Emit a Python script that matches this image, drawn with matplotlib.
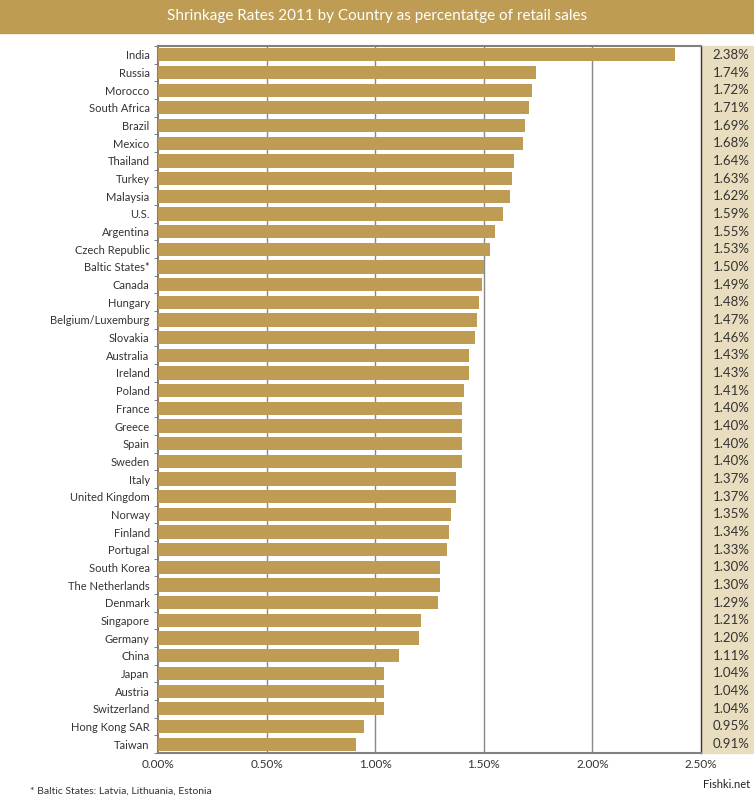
import matplotlib.pyplot as plt
from matplotlib.patches import Rectangle
import numpy as np

countries = ['India', 'Russia', 'Morocco', 'South Africa', 'Brazil', 'Mexico', 'Thailand',
             'Turkey', 'Malaysia', 'U.S.', 'Argentina', 'Czech Republic', 'Baltic States*',
             'Canada', 'Hungary', 'Belgium/Luxemburg', 'Slovakia', 'Australia', 'Ireland',
             'Poland', 'France', 'Greece', 'Spain', 'Sweden', 'Italy', 'United Kingdom',
             'Norway', 'Finland', 'Portugal', 'South Korea', 'The Netherlands', 'Denmark',
             'Singapore', 'Germany', 'China', 'Japan', 'Austria', 'Switzerland',
             'Hong Kong SAR', 'Taiwan']
rates = [2.38, 1.74, 1.72, 1.71, 1.69, 1.68, 1.64, 1.63, 1.62, 1.59, 1.55, 1.53, 1.50,
         1.49, 1.48, 1.47, 1.46, 1.43, 1.43, 1.41, 1.40, 1.40, 1.40, 1.40, 1.37, 1.37,
         1.35, 1.34, 1.33, 1.30, 1.30, 1.29, 1.21, 1.20, 1.11, 1.04, 1.04, 1.04, 0.95, 0.91]
xticks = [0, 0.5, 1.0, 1.5, 2.0, 2.5]

gold = '#BE9C54'
beige = '#E9DDBF'
W, H = 754, 800

plt.rcParams['font.family'] = ['Lato', 'DejaVu Sans']
fig = plt.figure(figsize=(W / 100, H / 100), dpi=100)

# title banner
fig.patches.append(Rectangle((0, 1 - 33 / H), 1, 33 / H, transform=fig.transFigure,
                             color=gold, zorder=-2))
fig.text(0.5, 1 - 16 / H, 'Shrinkage Rates 2011 by Country as percentatge of retail sales',
         color='white', fontsize=11, ha='center', va='center')

ax_left, ax_right = 158 / W, 701 / W
ax_top, ax_bot = 1 - 46 / H, 1 - 753 / H

# beige value panel
fig.patches.append(Rectangle((702 / W, ax_bot), 1 - 702 / W, ax_top - ax_bot,
                             transform=fig.transFigure, color=beige, zorder=-2))

ax = fig.add_axes([ax_left, ax_bot, ax_right - ax_left, ax_top - ax_bot])

y = np.arange(len(countries))
ax.barh(y, rates, height=0.75, color=gold, zorder=3)
ax.set_ylim(len(countries) - 0.5, -0.5)
ax.set_xlim(0, 2.5)
ax.set_yticks(y)
ax.set_yticklabels(countries, fontsize=8, color='#333333')
ax.set_yticks(np.arange(-0.5, len(countries), 1), minor=True)
ax.tick_params(axis='y', which='major', length=0, pad=6)
ax.tick_params(axis='y', which='minor', length=3, color='#666666', direction='out')
ax.set_xticks(xticks)
ax.set_xticklabels(['%.2f%%' % t for t in xticks], fontsize=8.5, color='#333333')
ax.tick_params(axis='x', length=0, pad=4)
for t in xticks[1:-1]:
    ax.axvline(t, color='#888888', lw=1, zorder=1)
for side in ['top', 'left', 'bottom']:
    ax.spines[side].set_color('#808080')
    ax.spines[side].set_linewidth(1.5)
ax.spines['right'].set_color('#333333')
ax.spines['right'].set_linewidth(1)

for yi, r in zip(y, rates):
    ax.annotate('%.2f%%' % r, xy=(1, yi), xycoords=('axes fraction', 'data'),
                xytext=(35, 0), textcoords='offset points', ha='right', va='center',
                fontsize=9.5, color='#333333', annotation_clip=False)

fig.text(30 / W, 1 - 791 / H, '* Baltic States: Latvia, Lithuania, Estonia',
         fontsize=7.5, color='#333333', va='center')
fig.text(750 / W, 1 - 785 / H, 'Fishki.net', fontsize=8, color='#222222',
         ha='right', va='center')

fig.savefig('out.png', dpi=100)
